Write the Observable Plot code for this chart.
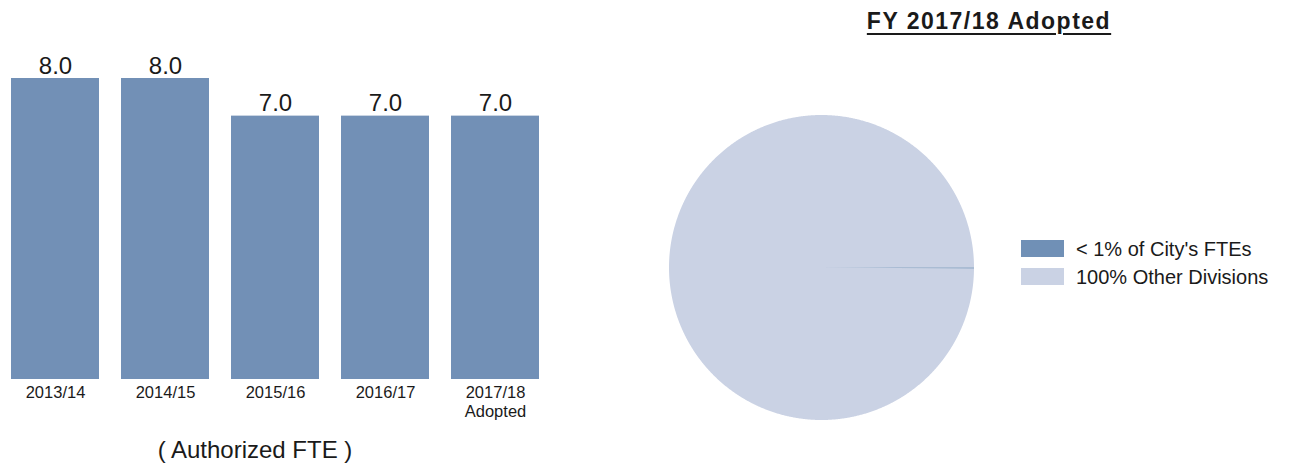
<!DOCTYPE html>
<html>
<head>
<meta charset="utf-8">
<script src="https://cdn.jsdelivr.net/npm/d3@7"></script>
<script src="https://cdn.jsdelivr.net/npm/@observablehq/plot@0.6"></script>
<style>
  html, body { margin: 0; padding: 0; background: #fff; }
  #root { position: relative; width: 1302px; height: 468px; overflow: hidden;
          font-family: "Liberation Sans", Arial, sans-serif; color: #1a1a1a; }
  .abs { position: absolute; }
  #title { left: 789px; top: 10px; width: 400px; text-align: center; font-size: 23px; line-height: 23px;
           letter-spacing: 1.5px; font-weight: bold; text-decoration: underline; text-decoration-thickness: 2px; text-underline-offset: 4px; }
  #caption { left: 55px; top: 438px; width: 400px; text-align: center; font-size: 24px; line-height: 24px; }
  .sw { position: absolute; width: 43px; height: 17px; }
  .lt { position: absolute; font-size: 20px; line-height: 20px; white-space: nowrap; }
</style>
</head>
<body>
<div id="root">
  <div id="bars" class="abs" style="left:0;top:0"></div>
  <div id="caption" class="abs">( Authorized FTE )</div>
  <div id="title" class="abs">FY 2017/18 Adopted</div>
  <div id="pie" class="abs" style="left:660px;top:110px"></div>
  <div id="legend"></div>
</div>
<script>
// ---- Data ----
const years = ["2013/14", "2014/15", "2015/16", "2016/17", "2017/18\nAdopted"];
const fte = [8.0, 8.0, 7.0, 7.0, 7.0];
const pieLabels = ["< 1% of City's FTEs", "100% Other Divisions"];
const pieValues = [7, 6993];
const barColor = "#7290b6";
const pieColors = ["#7090b6", "#cad2e4"];
const fontFamily = "'Liberation Sans', Arial, sans-serif";

// ---- Bar chart ----
const barData = years.map((y, i) => ({year: y, value: fte[i]}));
const bars = Plot.plot({
  width: 560,
  height: 425,
  marginLeft: 10,
  marginRight: 20,
  marginTop: 78,
  marginBottom: 46,
  style: {fontFamily, background: "white", overflow: "visible"},
  x: {domain: years, paddingInner: 0.2, paddingOuter: 0, label: null},
  y: {domain: [0, 8], axis: null},
  marks: [
    Plot.barY(barData, {x: "year", y: "value", fill: barColor}),
    Plot.text(barData, {x: "year", y: "value", text: d => d.value.toFixed(1), lineAnchor: "bottom",
      dy: -5, fontSize: 24, fill: "#1a1a1a"}),
    Plot.axisX({tickSize: 0, tickPadding: 6, fontSize: 16.5, lineHeight: 1.1, fill: "#1a1a1a", label: null})
  ]
});
document.getElementById("bars").append(bars);

// ---- Pie chart ----
const arcs = d3.pie().sort(null).startAngle(Math.PI / 2).endAngle(Math.PI / 2 + 2 * Math.PI)(pieValues);
const pts = [];
arcs.forEach((a, i) => {
  const n = Math.max(4, Math.ceil((a.endAngle - a.startAngle) / 0.005));
  pts.push({slice: pieLabels[i], x: 0, y: 0});
  for (let k = 0; k <= n; k++) {
    const t = a.startAngle + (a.endAngle - a.startAngle) * k / n;
    pts.push({slice: pieLabels[i], x: Math.sin(t), y: Math.cos(t)});
  }
});
const order = [1, 0];
const pieData = order.flatMap(i => pts.filter(p => p.slice === pieLabels[i]));
const pie = Plot.plot({
  width: 330,
  height: 320,
  style: {background: "transparent", overflow: "visible"},
  x: {domain: [-1, 1], range: [8.5, 313.5], axis: null},
  y: {domain: [-1, 1], range: [309.5, 4.5], axis: null},
  color: {domain: pieLabels, range: pieColors},
  marks: [
    Plot.line(pieData, {x: "x", y: "y", z: "slice", fill: "slice", stroke: null, curve: "linear-closed"})
  ]
});
document.getElementById("pie").append(pie);

// ---- Legend ----
const legend = document.getElementById("legend");
pieLabels.forEach((lab, i) => {
  const sw = document.createElement("div");
  sw.className = "sw";
  sw.style.left = "1021px";
  sw.style.top = (240 + i * 28) + "px";
  sw.style.background = pieColors[i];
  legend.append(sw);
  const t = document.createElement("div");
  t.className = "lt";
  t.style.left = "1076px";
  t.style.top = (239 + i * 28) + "px";
  t.textContent = lab;
  legend.append(t);
});
</script>
</body>
</html>
